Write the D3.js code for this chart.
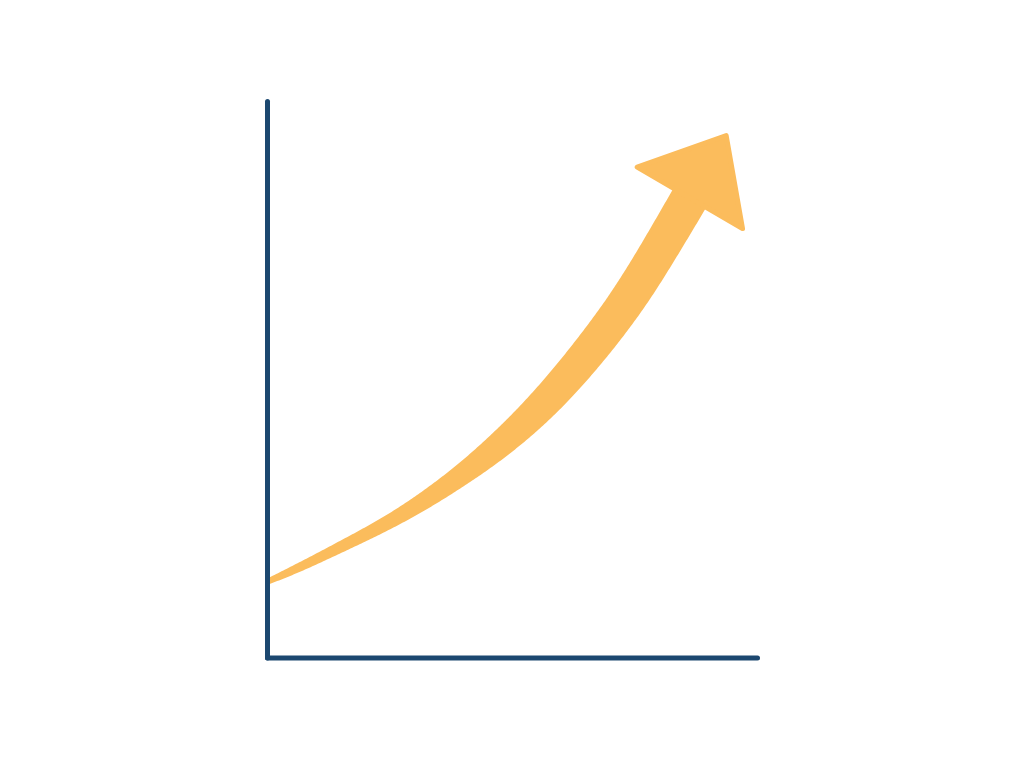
<!DOCTYPE html>
<html>
<head>
<meta charset="utf-8">
<script src="https://cdn.jsdelivr.net/npm/d3@7"></script>
<style>
  html, body { margin: 0; padding: 0; background: #ffffff; }
  svg { display: block; }
</style>
</head>
<body>
<svg id="chart" width="1024" height="766"></svg>
<script>
// growth curve (0-100 on both axes)
const xValues = [0.3, 6.7, 14.9, 27.1, 39.4, 49.6, 59.8, 72.0, 79.2, 86.3];
const yValues = [13.7, 16.2, 19.8, 25.2, 32.4, 39.6, 48.4, 61.8, 71.9, 82.6];
// band thickness along the curve (0-10)
const spread = [1.6, 2.4, 2.9, 3.9, 5.5, 7.4, 8.7, 9.5, 9.7, 10];

const xDomain = [0, 100];
const yDomain = [0, 100];

function chart(element) {
    const svg = d3.select(element);

    const x = d3.scaleLinear().domain(xDomain).range([267, 757]);
    const y = d3.scaleLinear().domain(yDomain).range([657.5, 101]);
    const w = d3.scaleLinear().domain([0, 10]).range([0, 38]);

    const points = xValues.map((v, i) => [x(v), y(yValues[i])]);

    // width as a smooth function of horizontal position
    const index = d3.scaleLinear()
        .domain(points.map(p => p[0]))
        .range(d3.range(points.length).map(i => i / (points.length - 1)))
        .clamp(true);
    const smoothSpread = d3.interpolateBasis(spread);
    const widthAt = px => w(smoothSpread(index(px)));

    // centre line, sampled to build the tapered band
    const centre = svg.append('path')
        .attr('d', d3.line().curve(d3.curveBasis)(points))
        .attr('fill', 'none')
        .attr('stroke', 'none');

    const node = centre.node();
    const total = node.getTotalLength();
    const step = 2;
    const left = [];
    const right = [];
    let lastDir = [1, 0];
    for (let s = 0; s <= total + 0.01; s += step) {
        const t = Math.min(s, total);
        const p = node.getPointAtLength(t);
        const a = node.getPointAtLength(Math.max(0, t - 3));
        const b = node.getPointAtLength(Math.min(total, t + 3));
        let dx = b.x - a.x, dy = b.y - a.y;
        const len = Math.hypot(dx, dy) || 1;
        dx /= len; dy /= len;
        lastDir = [dx, dy];
        const half = widthAt(p.x) / 2;
        left.push([p.x + dy * half, p.y - dx * half]);
        right.push([p.x - dy * half, p.y + dx * half]);
    }
    const end = node.getPointAtLength(total);

    svg.append('path')
        .attr('d', d3.line().curve(d3.curveLinearClosed)(left.concat(right.reverse())))
        .attr('fill', '#fbbc5c');

    // arrow head
    const headLen = 72;
    const halfBase = 61;
    const [dx, dy] = lastDir;
    const head = [
        [end.x + dx * headLen, end.y + dy * headLen],
        [end.x - dy * halfBase, end.y + dx * halfBase],
        [end.x + dy * halfBase, end.y - dx * halfBase]
    ];
    svg.append('path')
        .attr('d', d3.line().curve(d3.curveLinearClosed)(head))
        .attr('fill', '#fbbc5c')
        .attr('stroke', '#fbbc5c')
        .attr('stroke-width', 5)
        .attr('stroke-linejoin', 'round');

    // axes, no ticks
    const yAxis = svg.append('g')
        .attr('transform', `translate(${x(0)},0)`)
        .call(d3.axisLeft(y).tickValues([]).tickSizeOuter(0));
    const xAxis = svg.append('g')
        .attr('transform', `translate(0,${y(0)})`)
        .call(d3.axisBottom(x).tickValues([]).tickSizeOuter(0));

    [yAxis, xAxis].forEach(g => {
        g.select('.domain')
            .attr('stroke', '#1c4870')
            .attr('stroke-width', 5)
            .attr('stroke-linecap', 'round');
    });
}

chart(document.getElementById('chart'));
</script>
</body>
</html>
